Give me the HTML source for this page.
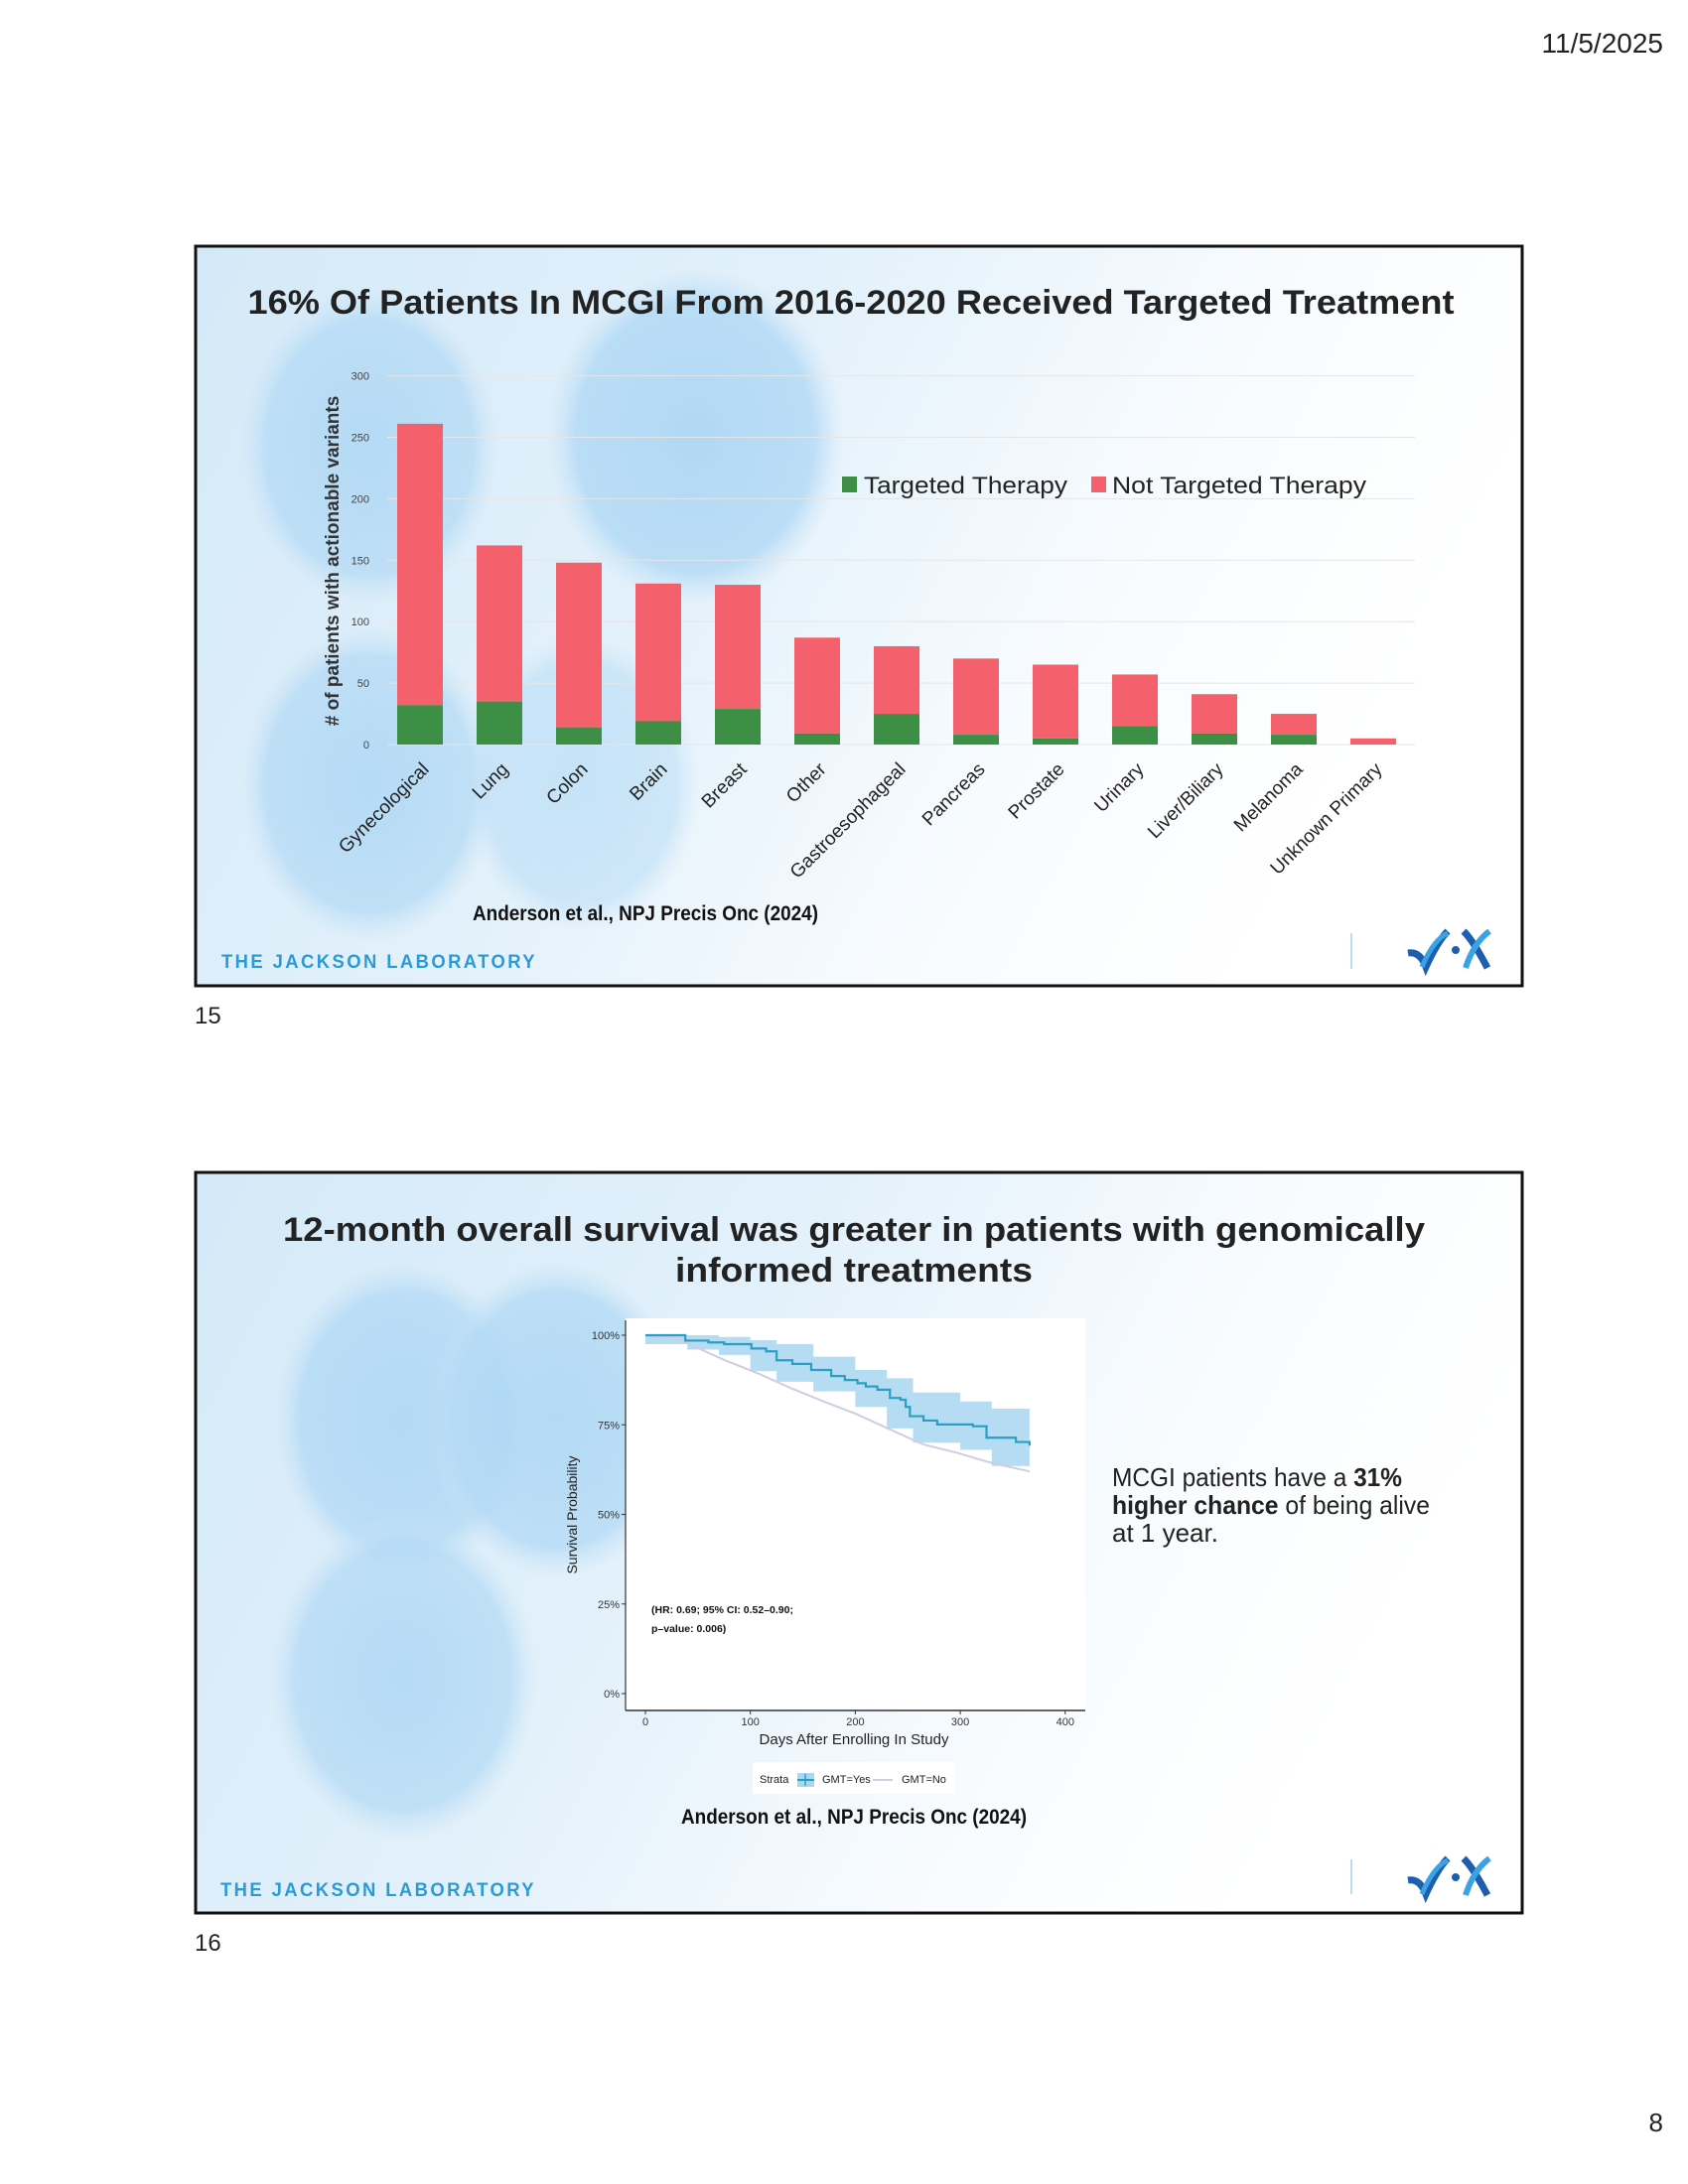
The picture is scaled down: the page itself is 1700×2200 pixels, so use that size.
<!DOCTYPE html>
<html><head><meta charset="utf-8"><style>
html,body{margin:0;padding:0;background:#fff;}
svg{display:block;}
text{font-family:"Liberation Sans",sans-serif;}
</style></head><body>
<svg id="page" width="1700" height="2200" viewBox="0 0 1700 2200" xmlns="http://www.w3.org/2000/svg">
<defs>
<linearGradient id="bg1" x1="0" y1="0" x2="1" y2="0.3">
<stop offset="0" stop-color="#d4e9f8"/><stop offset="0.45" stop-color="#e3f1fb"/><stop offset="0.75" stop-color="#f7fbfe"/><stop offset="1" stop-color="#ffffff"/>
</linearGradient>
<radialGradient id="circ" cx="0.5" cy="0.5" r="0.5">
<stop offset="0" stop-color="#a8d4f3"/><stop offset="0.8" stop-color="#b4daf5"/><stop offset="1" stop-color="#c9e4f7" stop-opacity="0"/>
</radialGradient>
</defs>
<rect width="1700" height="2200" fill="#fff"/>
<text x="1675" y="53" text-anchor="end" font-size="28" fill="#222">11/5/2025</text>

<!-- Slide 15 -->
<g>
<rect x="197" y="248" width="1336" height="745" fill="url(#bg1)"/>
<ellipse cx="372" cy="450" rx="130" ry="160" fill="url(#circ)" opacity="0.75"/>
<ellipse cx="700" cy="440" rx="150" ry="170" fill="url(#circ)" opacity="0.85"/>
<ellipse cx="372" cy="790" rx="130" ry="160" fill="url(#circ)" opacity="0.75"/>
<ellipse cx="585" cy="790" rx="120" ry="150" fill="url(#circ)" opacity="0.5"/>
<rect x="197" y="248" width="1336" height="745" fill="none" stroke="#111" stroke-width="3"/>
<text x="857" y="316" text-anchor="middle" font-size="34" font-weight="bold" fill="#222" textLength="1215" lengthAdjust="spacingAndGlyphs">16% Of Patients In MCGI From 2016-2020 Received Targeted Treatment</text>
<g id="chart1"></g>
<g>
<rect x="848" y="480" width="15" height="16" fill="#3c8f45"/>
<text x="870" y="497" font-size="24" fill="#222" textLength="205" lengthAdjust="spacingAndGlyphs">Targeted Therapy</text>
<rect x="1099" y="480" width="15" height="16" fill="#f4606c"/>
<text x="1120" y="497" font-size="24" fill="#222" textLength="256" lengthAdjust="spacingAndGlyphs">Not Targeted Therapy</text>
</g>
<text x="650" y="927" text-anchor="middle" font-size="21" font-weight="bold" fill="#111" textLength="348" lengthAdjust="spacingAndGlyphs">Anderson et al., NPJ Precis Onc (2024)</text>
<text x="223" y="975" font-size="19" font-weight="bold" fill="#2b9bd6" letter-spacing="2.5" textLength="318" lengthAdjust="spacingAndGlyphs">THE JACKSON LABORATORY</text>
<line x1="1361" y1="940" x2="1361" y2="976" stroke="#b9dcf2" stroke-width="2"/>
<g transform="translate(1418,938)">
<path d="M0 22 Q12 20 18 36 Q30 10 40 0" fill="none" stroke="#1d5fae" stroke-width="7"/>
<path d="M14 36 Q26 8 40 2" fill="none" stroke="#3aa3e6" stroke-width="5"/>
<circle cx="48" cy="19" r="4" fill="#1d5fae"/>
<path d="M56 0 Q66 10 80 37" fill="none" stroke="#1d5fae" stroke-width="7"/>
<path d="M82 0 Q66 12 58 37" fill="none" stroke="#3aa3e6" stroke-width="6"/>
</g>
</g>
<text x="196" y="1031" font-size="24" fill="#222">15</text>

<!-- Slide 16 -->
<g>
<rect x="197" y="1181" width="1336" height="746" fill="url(#bg1)"/>
<ellipse cx="406" cy="1430" rx="130" ry="160" fill="url(#circ)" opacity="0.8"/>
<ellipse cx="560" cy="1430" rx="130" ry="160" fill="url(#circ)" opacity="0.8"/>
<ellipse cx="406" cy="1690" rx="135" ry="165" fill="url(#circ)" opacity="0.75"/>
<rect x="197" y="1181" width="1336" height="746" fill="none" stroke="#111" stroke-width="3"/>
<text x="860" y="1250" text-anchor="middle" font-size="34" font-weight="bold" fill="#222" textLength="1150" lengthAdjust="spacingAndGlyphs">12-month overall survival was greater in patients with genomically</text>
<text x="860" y="1291" text-anchor="middle" font-size="34" font-weight="bold" fill="#222" textLength="360" lengthAdjust="spacingAndGlyphs">informed treatments</text>
<rect x="630" y="1328" width="463" height="395" fill="#fff"/>
<g id="chart2"></g>
<text x="860" y="1757" text-anchor="middle" font-size="15" fill="#222">Days After Enrolling In Study</text>
<text transform="translate(581,1526) rotate(-90)" text-anchor="middle" font-size="14" fill="#222">Survival Probability</text>
<text x="656" y="1625" font-size="10.5" font-weight="bold" fill="#111">(HR: 0.69; 95% CI: 0.52–0.90;</text>
<text x="656" y="1644" font-size="10.5" font-weight="bold" fill="#111">p–value: 0.006)</text>
<g>
<rect x="758" y="1775" width="204" height="32" fill="#fff"/>
<text x="765" y="1796" font-size="11" fill="#222">Strata</text>
<rect x="803" y="1786" width="17" height="14" fill="#a9d6f2"/>
<line x1="803" y1="1793" x2="820" y2="1793" stroke="#2a9fc4" stroke-width="2"/>
<line x1="811" y1="1787" x2="811" y2="1799" stroke="#2a9fc4" stroke-width="1.5"/>
<text x="828" y="1796" font-size="11" fill="#222">GMT=Yes</text>
<line x1="879" y1="1793" x2="899" y2="1793" stroke="#cfcde0" stroke-width="2"/>
<text x="908" y="1796" font-size="11" fill="#222">GMT=No</text>
</g>
<g font-size="26" fill="#222">
<text x="1120" y="1497" textLength="292" lengthAdjust="spacingAndGlyphs">MCGI patients have a <tspan font-weight="bold">31%</tspan></text>
<text x="1120" y="1525" textLength="320" lengthAdjust="spacingAndGlyphs"><tspan font-weight="bold">higher chance</tspan> of being alive</text>
<text x="1120" y="1553">at 1 year.</text>
</g>
<text x="860" y="1837" text-anchor="middle" font-size="21" font-weight="bold" fill="#111" textLength="348" lengthAdjust="spacingAndGlyphs">Anderson et al., NPJ Precis Onc (2024)</text>
<text x="222" y="1910" font-size="19" font-weight="bold" fill="#2b9bd6" letter-spacing="2.5" textLength="318" lengthAdjust="spacingAndGlyphs">THE JACKSON LABORATORY</text>
<line x1="1361" y1="1873" x2="1361" y2="1908" stroke="#b9dcf2" stroke-width="2"/>
<g transform="translate(1418,1872)">
<path d="M0 22 Q12 20 18 36 Q30 10 40 0" fill="none" stroke="#1d5fae" stroke-width="7"/>
<path d="M14 36 Q26 8 40 2" fill="none" stroke="#3aa3e6" stroke-width="5"/>
<circle cx="48" cy="19" r="4" fill="#1d5fae"/>
<path d="M56 0 Q66 10 80 37" fill="none" stroke="#1d5fae" stroke-width="7"/>
<path d="M82 0 Q66 12 58 37" fill="none" stroke="#3aa3e6" stroke-width="6"/>
</g>
</g>
<text x="196" y="1965" font-size="24" fill="#222">16</text>
<text x="1675" y="2147" text-anchor="end" font-size="26" fill="#222">8</text>
</svg>
<script>
const NS = "http://www.w3.org/2000/svg";
// ---- Chart 1 data ----
const categories = ["Gynecological","Lung","Colon","Brain","Breast","Other","Gastroesophageal","Pancreas","Prostate","Urinary","Liver/Biliary","Melanoma","Unknown Primary"];
const targeted = [32,35,14,19,29,9,25,8,5,15,9,8,0];
const totals = [261,162,148,131,130,87,80,70,65,57,41,25,5];
const yTicks1 = [0,50,100,150,200,250,300];
// ---- Chart 2 data ----
const yesDays = [0,28,38,60,75,101,115,125,140,158,177,190,202,210,221,233,243,248,252,265,278,312,325,353,366];
const yesSurv = [1,1,0.985,0.98,0.975,0.963,0.955,0.93,0.92,0.903,0.886,0.875,0.866,0.857,0.848,0.825,0.82,0.8,0.774,0.762,0.751,0.746,0.714,0.702,0.692];
const bandDays = [0,40,70,100,125,160,200,230,255,300,330,366];
const bandUpper = [1,1,0.995,0.986,0.975,0.94,0.903,0.88,0.84,0.815,0.795,0.765];
const bandLower = [1,0.975,0.96,0.945,0.9,0.87,0.843,0.8,0.74,0.70,0.68,0.635];
const noDays = [0,28,44,76,107,139,170,202,233,265,297,328,366];
const noSurv = [1,0.995,0.972,0.93,0.894,0.852,0.815,0.779,0.737,0.695,0.672,0.645,0.62];
const xTicks2 = [0,100,200,300,400];
const yTicks2 = [0,0.25,0.5,0.75,1];

function mk(tag, attrs, parent){const e=document.createElementNS(NS,tag);for(const k in attrs)e.setAttribute(k,attrs[k]);parent.appendChild(e);return e;}

// Chart 1
(function(){
  const g=document.getElementById('chart1');
  const y0=750, pxPer=1.238, x0=423, step=80, bw=46;
  const Y=v=>y0-v*pxPer, X=i=>x0+i*step;
  yTicks1.forEach(t=>{
    const l=mk('line',{x1:390,x2:1425,y1:Y(t),y2:Y(t),stroke:'#e6e6e6','stroke-width':1},g);
    
    
    const tx=mk('text',{x:372,y:Y(t)+4,'text-anchor':'end','font-size':11,fill:'#444'},g);
    tx.textContent=t;
    
    
  });
  const yt=mk('text',{transform:'translate(341,565) rotate(-90)','text-anchor':'middle','font-size':19,'font-weight':'bold',fill:'#333'},g);
  yt.textContent='# of patients with actionable variants';
  
  
  categories.forEach((c,i)=>{
    const cx=X(i);
    const r=mk('rect',{x:cx-bw/2,y:Y(totals[i]),width:bw,height:(totals[i]-targeted[i])*pxPer,fill:'#f4606c'},g);
    
    
    const gr=mk('rect',{x:cx-bw/2,y:Y(targeted[i]),width:bw,height:targeted[i]*pxPer,fill:'#3c8f45'},g);
    
    
    const t=mk('text',{transform:`translate(${cx+10},${y0+26}) rotate(-45)`,'text-anchor':'end','font-size':19,fill:'#222'},g);
    t.textContent=c;
    
    
  });
})();

// Chart 2
(function(){
  const g=document.getElementById('chart2');
  const X=d=>650+d*1.057, Y=s=>1706-s*361;
  mk('line',{x1:630,x2:630,y1:1330,y2:1723,stroke:'#333','stroke-width':1.2},g);
  mk('line',{x1:630,x2:1093,y1:1723,y2:1723,stroke:'#333','stroke-width':1.5},g);
  yTicks2.forEach(t=>{
    mk('line',{x1:626,x2:630,y1:Y(t),y2:Y(t),stroke:'#333'},g);
    const tx=mk('text',{x:624,y:Y(t)+4,'text-anchor':'end','font-size':11,fill:'#333'},g);
    tx.textContent=Math.round(t*100)+'%';
    
    
  });
  xTicks2.forEach(t=>{
    mk('line',{x1:X(t),x2:X(t),y1:1723,y2:1727,stroke:'#333'},g);
    const tx=mk('text',{x:X(t),y:1738,'text-anchor':'middle','font-size':11,fill:'#333'},g);
    tx.textContent=t;
    
    
  });
  function stepPath(days,vals){let d=`M${X(days[0])},${Y(vals[0])}`;for(let i=1;i<days.length;i++){d+=` H${X(days[i])} V${Y(vals[i])}`;}return d;}
  function linePath(days,vals){let d=`M${X(days[0])},${Y(vals[0])}`;for(let i=1;i<days.length;i++){d+=` L${X(days[i])},${Y(vals[i])}`;}return d;}
  let bd=`M${X(bandDays[0])},${Y(bandUpper[0])}`;
  for(let i=1;i<bandDays.length;i++) bd+=` H${X(bandDays[i])} V${Y(bandUpper[i])}`;
  bd+=` V${Y(bandLower[bandDays.length-1])}`;
  for(let i=bandDays.length-1;i>0;i--) bd+=` H${X(bandDays[i-1])} V${Y(bandLower[i-1])}`;
  bd+=' Z';
  const band=mk('path',{d:bd,fill:'#a9d6f2',opacity:0.85},g);
  
  
  const no=mk('path',{d:linePath(noDays,noSurv),fill:'none',stroke:'#cfcde0','stroke-width':2},g);
  
  
  const yes=mk('path',{d:stepPath(yesDays,yesSurv),fill:'none',stroke:'#2a9fc4','stroke-width':2.2},g);
  
  
})();
</script>
</body></html>
